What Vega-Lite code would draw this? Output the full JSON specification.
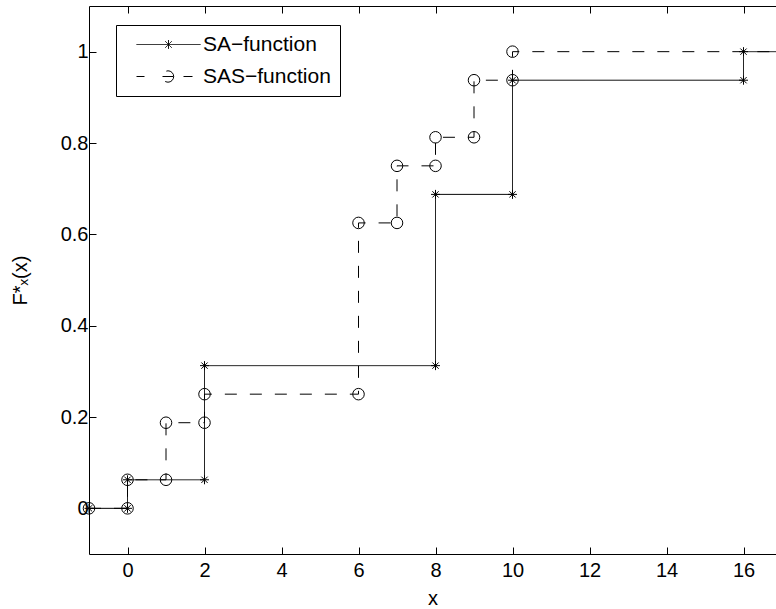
{
  "$schema": "https://vega.github.io/schema/vega-lite/v6.json",
  "autosize": {"type": "none"},
  "padding": {"left": 89, "top": 6, "right": 0, "bottom": 55},
  "width": 687,
  "height": 548,
  "background": "white",
  "config": {
    "view": {"stroke": null},
    "font": "Liberation Sans",
    "axis": {
      "domainColor": "black", "domainWidth": 1, "tickColor": "black", "tickWidth": 1,
      "labelColor": "black", "labelFont": "Liberation Sans", "labelFontSize": 20,
      "titleColor": "black", "titleFont": "Liberation Sans", "titleFontSize": 20, "titleFontWeight": "normal",
      "grid": false
    }
  },
  "data": {"values": [
    {"series": "SA-function", "i": 0, "x": -1, "y": 0},
    {"series": "SA-function", "i": 1, "x": 0, "y": 0},
    {"series": "SA-function", "i": 2, "x": 0, "y": 0.0625},
    {"series": "SA-function", "i": 3, "x": 2, "y": 0.0625},
    {"series": "SA-function", "i": 4, "x": 2, "y": 0.3125},
    {"series": "SA-function", "i": 5, "x": 8, "y": 0.3125},
    {"series": "SA-function", "i": 6, "x": 8, "y": 0.6875},
    {"series": "SA-function", "i": 7, "x": 10, "y": 0.6875},
    {"series": "SA-function", "i": 8, "x": 10, "y": 0.9375},
    {"series": "SA-function", "i": 9, "x": 16, "y": 0.9375},
    {"series": "SA-function", "i": 10, "x": 16, "y": 1},
    {"series": "SA-function", "i": 11, "x": 18, "y": 1},
    {"series": "SAS-function", "i": 0, "x": -1, "y": 0},
    {"series": "SAS-function", "i": 1, "x": 0, "y": 0},
    {"series": "SAS-function", "i": 2, "x": 0, "y": 0.0625},
    {"series": "SAS-function", "i": 3, "x": 1, "y": 0.0625},
    {"series": "SAS-function", "i": 4, "x": 1, "y": 0.1875},
    {"series": "SAS-function", "i": 5, "x": 2, "y": 0.1875},
    {"series": "SAS-function", "i": 6, "x": 2, "y": 0.25},
    {"series": "SAS-function", "i": 7, "x": 6, "y": 0.25},
    {"series": "SAS-function", "i": 8, "x": 6, "y": 0.625},
    {"series": "SAS-function", "i": 9, "x": 7, "y": 0.625},
    {"series": "SAS-function", "i": 10, "x": 7, "y": 0.75},
    {"series": "SAS-function", "i": 11, "x": 8, "y": 0.75},
    {"series": "SAS-function", "i": 12, "x": 8, "y": 0.8125},
    {"series": "SAS-function", "i": 13, "x": 9, "y": 0.8125},
    {"series": "SAS-function", "i": 14, "x": 9, "y": 0.9375},
    {"series": "SAS-function", "i": 15, "x": 10, "y": 0.9375},
    {"series": "SAS-function", "i": 16, "x": 10, "y": 1},
    {"series": "SAS-function", "i": 17, "x": 18, "y": 1}
  ]},
  "resolve": {"axis": {"x": "independent"}},
  "layer": [
    {
      "mark": {"type": "line", "strokeWidth": 1},
      "encoding": {
        "x": {"field": "x", "type": "quantitative",
              "scale": {"domain": [-1, 16.844], "nice": false, "zero": false},
              "axis": {"orient": "bottom", "values": [0, 2, 4, 6, 8, 10, 12, 14, 16], "tickSize": -7, "labelPadding": 13, "title": "x", "titlePadding": 8}},
        "y": {"field": "y", "type": "quantitative",
              "scale": {"domain": [-0.1, 1.1], "nice": false, "zero": false},
              "axis": {"values": [0, 0.2, 0.4, 0.6, 0.8, 1], "format": "~g", "tickSize": -7, "labelPadding": 8, "title": "F*ₓ(x)", "titlePadding": 30}},
        "order": {"field": "i", "type": "quantitative"},
        "color": {"field": "series", "type": "nominal",
                  "scale": {"domain": ["SA-function", "SAS-function"], "range": ["black", "black"]},
                  "legend": {
                    "title": null, "orient": "none", "legendX": 27, "legendY": 19,
                    "strokeColor": "black", "fillColor": "white", "padding": 9,
                    "labelFont": "Liberation Sans", "labelFontSize": 21, "labelColor": "black",
                    "labelExpr": "replace(datum.label, '-', '−')",
                    "symbolSize": 64, "labelOffset": 57, "rowPadding": 10,
                    "encode": {"symbols": {"update": {
                      "shape": {"signal": "datum.value === 'SA-function' ? 'M0.25,0L16.25,0M8.25,-1.1L8.25,1.1M7.45,-0.8L9.05,0.8M7.45,0.8L9.05,-0.8' : 'M0.25,0L2.25,0M12,0L14.25,0M6.75,0L9.5,0M9.55,0L9.4416,0.5453L9.1326,1.0076L8.6703,1.3166L8.125,1.425L7.5797,1.3166L7.1174,1.0076L6.8084,0.5453L6.7,0L6.8084,-0.5453L7.1174,-1.0076L7.5797,-1.3166L8.125,-1.425L8.6703,-1.3166L9.1326,-1.0076L9.4416,-0.5453Z'"},
                      "strokeDash": {"value": [1, 0]},
                      "stroke": {"value": "black"},
                      "fill": {"value": "transparent"},
                      "strokeWidth": {"value": 1}
                    }}}
                  }},
        "strokeDash": {"field": "series", "type": "nominal",
                       "scale": {"domain": ["SA-function", "SAS-function"], "range": [[1, 0], [12, 13]]},
                       "legend": null}
      }
    },
    {
      "transform": [{"filter": "datum.series === 'SA-function'"}],
      "mark": {"type": "point", "filled": false, "stroke": "black", "strokeWidth": 1, "opacity": 1,
               "shape": "M-1,0L1,0M0,-1L0,1M-0.7,-0.7L0.7,0.7M-0.7,0.7L0.7,-0.7", "size": 81},
      "encoding": {
        "x": {"field": "x", "type": "quantitative",
              "scale": {"domain": [-1, 16.844], "nice": false, "zero": false},
              "axis": {"orient": "top", "values": [0, 2, 4, 6, 8, 10, 12, 14, 16], "tickSize": -7, "labels": false, "title": null}},
        "y": {"field": "y", "type": "quantitative"}
      }
    },
    {
      "transform": [{"filter": "datum.series === 'SAS-function'"}],
      "mark": {"type": "point", "filled": false, "stroke": "black", "strokeWidth": 1, "opacity": 1,
               "shape": "circle", "size": 133},
      "encoding": {
        "x": {"field": "x", "type": "quantitative",
              "scale": {"domain": [-1, 16.844], "nice": false, "zero": false},
              "axis": null},
        "y": {"field": "y", "type": "quantitative"}
      }
    }
  ]
}
